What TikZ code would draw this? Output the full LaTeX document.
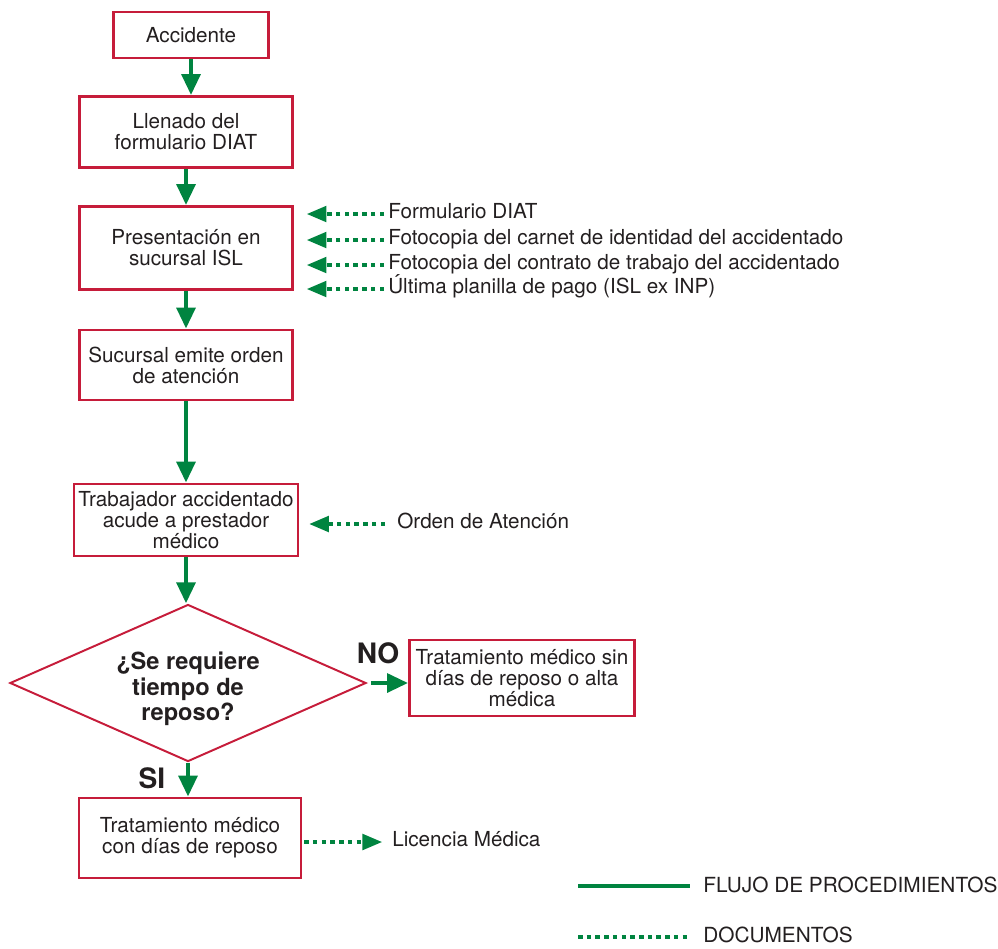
\documentclass[tikz,border=0pt]{standalone}
\usepackage{fontspec}
\setmainfont{TeX Gyre Heros}
\usetikzlibrary{arrows.meta}
\usetikzlibrary{shapes.geometric}
\definecolor{islred}{RGB}{198,28,58}
\definecolor{islgreen}{RGB}{0,132,64}
\definecolor{txtgray}{RGB}{35,31,32}
\tikzset{box/.style={draw=islred, line width=1.8pt, align=center, inner sep=0pt, text=txtgray, font=\fontsize{14.7}{15}\selectfont}}
\tikzset{decision/.style={diamond, draw=islred, line width=1.4pt, aspect=2.27, inner sep=0pt}}
\tikzset{dectext/.style={align=center, inner sep=0pt, text=txtgray, font=\bfseries\fontsize{16.8}{18}\selectfont}}
\tikzset{flow/.style={color=islgreen, line width=3.5pt, -{Triangle[length=15pt,width=13pt]}}}
\tikzset{doc/.style={color=islgreen, line width=2.6pt, dash pattern=on 3.2pt off 3pt, -{Triangle[length=14pt,width=11pt]}}}
\tikzset{doctext/.style={anchor=west, inner xsep=0pt, text=txtgray, text height=1.5ex, text depth=.25ex, font=\fontsize{14.7}{15}\selectfont}}
\tikzset{yesno/.style={text=txtgray, inner sep=0pt, font=\bfseries\fontsize{20}{22}\selectfont}}

\begin{document}
\begin{tikzpicture}[x=0.025cm, y=-0.025cm]
\useasboundingbox (0,0) rectangle (998,948);

% main flow
\node[box, minimum width=3.875cm, minimum height=1.15cm] (acc) at (191,35) {Accidente};
\node[box, minimum width=5.325cm, minimum height=1.775cm] (llen) at (186,132) {Llenado del\\formulario DIAT};
\node[box, minimum width=5.325cm, minimum height=2.075cm] (pres) at (186,248) {Presentación en\\sucursal ISL};
\node[box, minimum width=5.325cm, minimum height=1.75cm] (suc) at (186,365) {Sucursal emite orden\\de atención};
\node[box, minimum width=5.6cm, minimum height=1.8cm] (trab) at (186,520) {Trabajador accidentado\\acude a prestador\\médico};
\node[decision, minimum width=8.9cm, minimum height=3.925cm] (dec) at (188,683) {};
\node[dectext] (dectxt) at (188,689) {¿Se requiere\\tiempo de\\reposo?};
\node[box, minimum width=5.625cm, minimum height=1.9cm] (sin) at (522,678) {Tratamiento médico sin\\días de reposo o alta\\médica};
\node[box, minimum width=5.55cm, minimum height=2cm] (con) at (190,838) {Tratamiento médico\\con días de reposo};

\node[yesno] (no) at (378,653) {NO};
\node[yesno] (si) at (152,778) {SI};

\draw[flow] (acc.south) -- (acc.south |- llen.north);
\draw[flow] (llen) -- (pres);
\draw[flow] (pres) -- (suc);
\draw[flow] (suc) -- (trab);
\draw[flow] (trab.south) -- (trab.south |- dec.north);
\draw[flow, shorten <=3pt] (dec.east) -- (sin.west |- dec.east);
\draw[flow] (dec.south) -- (dec.south |- con.north);

% documents
\node[doctext] (doc1) at (388,214) {Formulario DIAT};
\node[doctext] (doc2) at (388,240) {Fotocopia del carnet de identidad del accidentado};
\node[doctext] (doc3) at (388,265) {Fotocopia del contrato de trabajo del accidentado};
\node[doctext] (doc4) at (388,289) {Última planilla de pago (ISL ex INP)};
\foreach \d in {doc1,doc2,doc3,doc4}
  \draw[doc, shorten <=2.8pt, shorten >=9.2pt] (\d.west) -- (\d.west -| pres.east);

\node[doctext] (ord) at (397,524) {Orden de Atención};
\draw[doc, shorten <=8.5pt, shorten >=7pt] (ord.west) -- (ord.west -| trab.east);

\node[doctext] (lic) at (392,842) {Licencia Médica};
\draw[doc, shorten <=1.4pt, shorten >=7pt] (con.east |- lic.west) -- (lic.west);

% legend
\coordinate (legflowstart) at (578,886);
\coordinate (legdocstart) at (578,937);
\node[doctext, font=\fontsize{14.8}{16}\selectfont] (legflow) at (703,888) {FLUJO DE PROCEDIMIENTOS};
\node[doctext, font=\fontsize{14.8}{16}\selectfont] (legdoc) at (703,938) {DOCUMENTOS};
\draw[islgreen, line width=2.2pt, shorten >=9.2pt] (legflowstart) -- (legflowstart -| legflow.west);
\draw[islgreen, line width=2.6pt, dash pattern=on 3.2pt off 3pt, shorten >=9.2pt] (legdocstart) -- (legdocstart -| legdoc.west);
\end{tikzpicture}
\end{document}
